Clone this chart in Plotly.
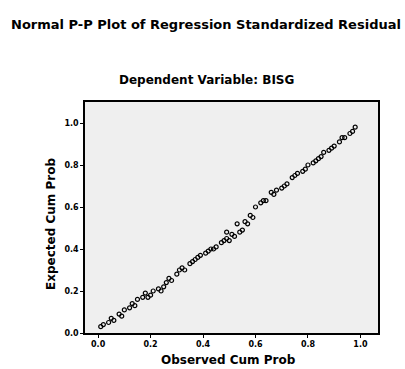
import plotly.graph_objects as go

observed_cum_prob = [0.01,0.02,0.04,0.05,0.06,0.08,0.09,0.10,0.12,0.13,0.14,0.15,0.17,0.18,0.19,0.20,
                     0.21,0.23,0.24,0.25,0.26,0.27,0.28,0.30,0.31,0.32,0.33,0.35,0.36,0.37,0.38,0.39,
                     0.41,0.42,0.43,0.44,0.45,0.47,0.48,0.49,0.49,0.50,0.51,0.52,0.53,0.54,0.55,0.56,
                     0.57,0.58,0.59,0.60,0.62,0.63,0.64,0.66,0.67,0.68,0.70,0.71,0.72,0.74,0.75,0.76,
                     0.78,0.79,0.80,0.82,0.83,0.84,0.85,0.86,0.88,0.89,0.90,0.92,0.93,0.94,0.96,0.97,0.98]
expected_cum_prob = [0.03,0.04,0.05,0.07,0.06,0.09,0.08,0.11,0.12,0.14,0.13,0.16,0.17,0.19,0.17,0.18,
                     0.20,0.21,0.20,0.22,0.24,0.26,0.25,0.28,0.30,0.31,0.30,0.33,0.34,0.35,0.36,0.37,
                     0.38,0.39,0.40,0.40,0.41,0.43,0.44,0.45,0.48,0.44,0.47,0.46,0.52,0.48,0.49,0.53,
                     0.52,0.56,0.55,0.60,0.62,0.63,0.63,0.67,0.66,0.68,0.69,0.70,0.71,0.74,0.75,0.76,
                     0.77,0.78,0.80,0.81,0.82,0.83,0.84,0.86,0.87,0.88,0.89,0.91,0.93,0.93,0.95,0.96,0.98]
tick_vals = [0.0, 0.2, 0.4, 0.6, 0.8, 1.0]
tick_text = ["0.0", "0.2", "0.4", "0.6", "0.8", "1.0"]

main_title = "Normal P-P Plot of Regression Standardized Residual"
sub_title = "Dependent Variable: BISG"
x_title = "Observed Cum Prob"
y_title = "Expected Cum Prob"

FONT = "DejaVu Sans"

fig = go.Figure()
fig.add_trace(go.Scatter(
    x=observed_cum_prob, y=expected_cum_prob, mode="markers",
    marker=dict(symbol="circle-open", size=4, color="black", line=dict(width=1.2, color="black")),
    showlegend=False, hoverinfo="skip"))

axis_common = dict(
    showgrid=False, zeroline=False, showline=True, linecolor="black", linewidth=1.5,
    mirror=True, ticks="outside", ticklen=3, tickwidth=1, tickcolor="black",
    tickvals=tick_vals, ticktext=tick_text,
    tickfont=dict(family=FONT, size=8, color="black", weight="bold"),
)

fig.update_layout(
    width=405, height=369,
    margin=dict(l=85, r=27, t=102, b=36),
    paper_bgcolor="white", plot_bgcolor="#efefef",
    xaxis=dict(range=[-0.05, 1.067], **axis_common),
    yaxis=dict(range=[0.0, 1.1], **axis_common),
)

annos = [
    dict(text=main_title, x=(206 - 85) / 293, y=(333 - 24) / 231, size=13),
    dict(text=sub_title, x=(206 - 85) / 293, y=(333 - 80) / 231, size=12),
    dict(text=x_title, x=(228 - 85) / 293, y=(333 - 360) / 231, size=12),
]
for a in annos:
    fig.add_annotation(text=a["text"], x=a["x"], y=a["y"], xref="paper", yref="paper",
                       xanchor="center", yanchor="middle", showarrow=False,
                       font=dict(family=FONT, size=a["size"], color="black", weight="bold"))
fig.add_annotation(text=y_title, x=(51 - 85) / 293, y=(333 - 224) / 231, xref="paper", yref="paper",
                   xanchor="center", yanchor="middle", showarrow=False, textangle=-90,
                   font=dict(family=FONT, size=12, color="black", weight="bold"))

fig.write_html("out.html")
